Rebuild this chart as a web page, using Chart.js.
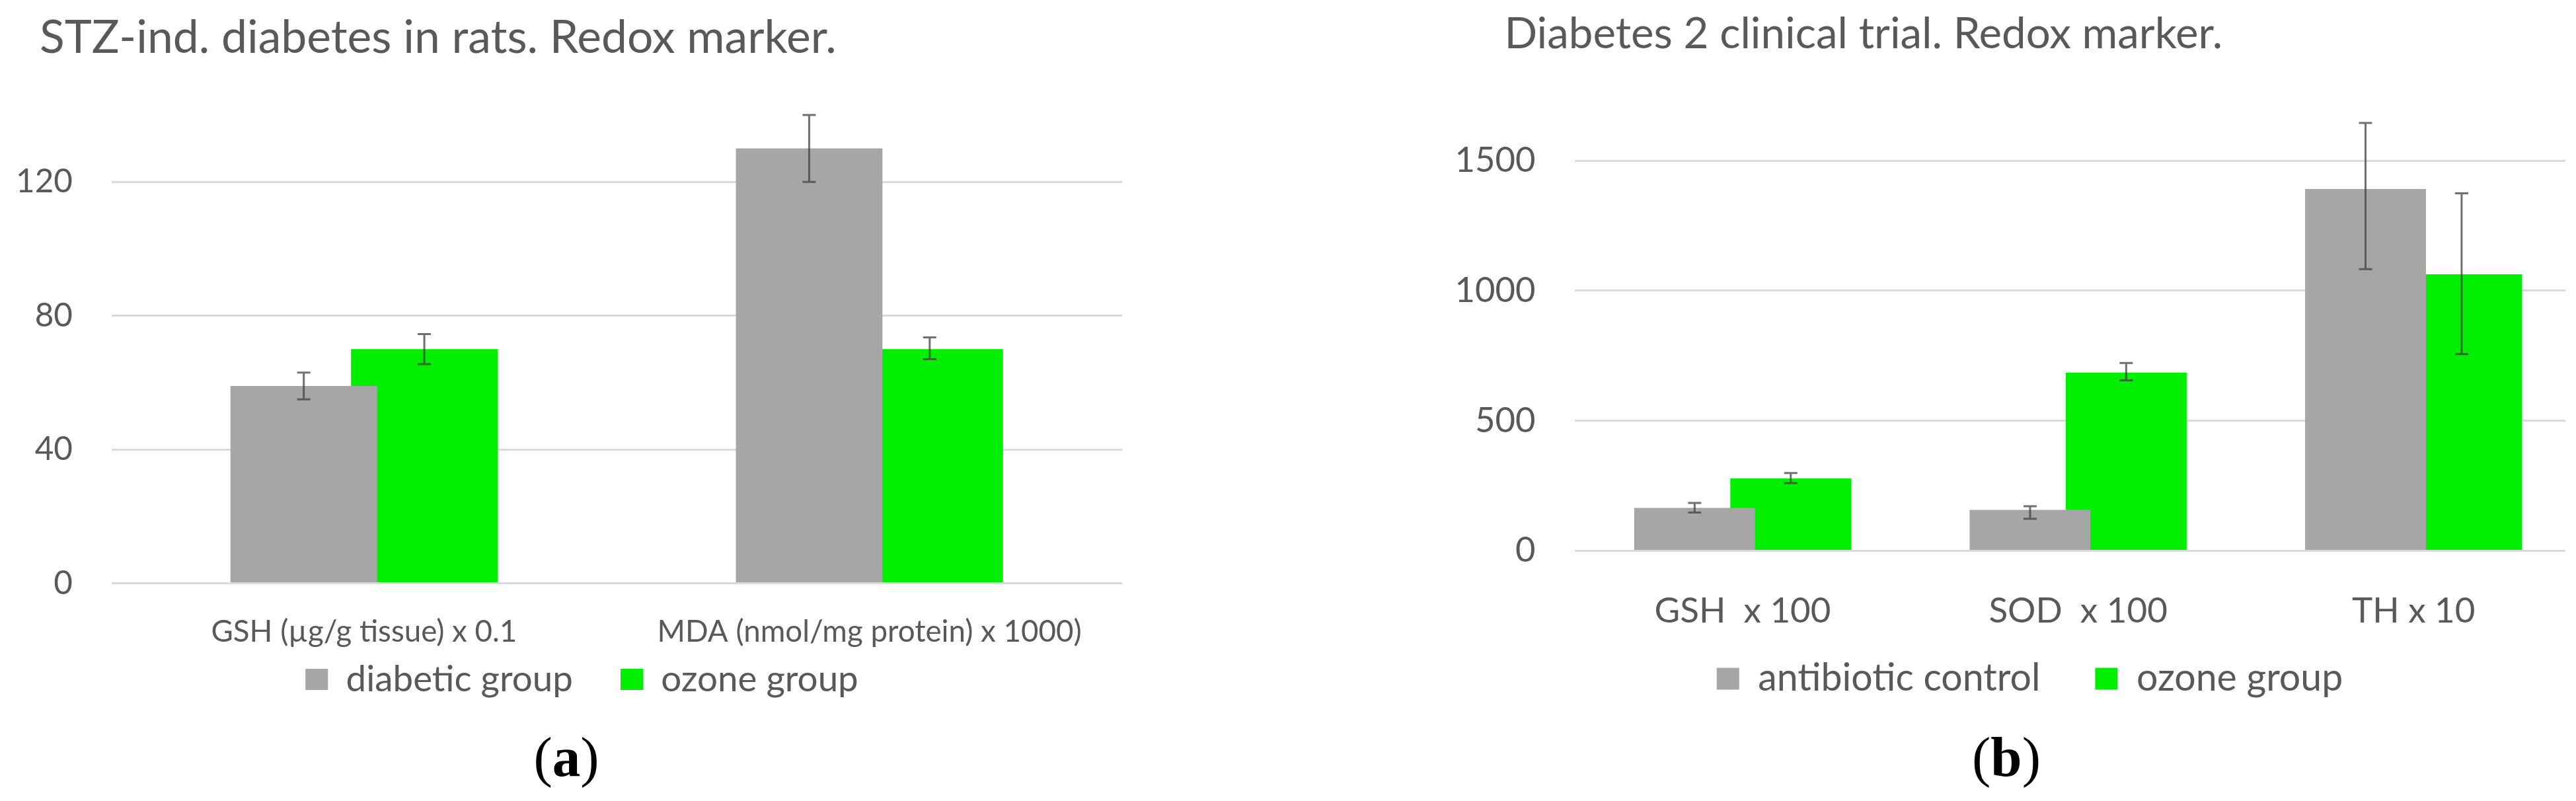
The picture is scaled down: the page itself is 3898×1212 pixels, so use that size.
<!DOCTYPE html>
<html>
<head>
<meta charset="utf-8">
<title>Redox markers</title>
<script src="https://cdn.jsdelivr.net/npm/chart.js@4.4.1/dist/chart.umd.min.js"></script>
<style>
  html, body { margin: 0; padding: 0; background: #fff; overflow: hidden; }
  body { width: 3898px; height: 1212px; position: relative; }
  .panel { position: absolute; top: 0; overflow: hidden; }
  #panelA { left: 0; width: 1712px; height: 1100px; }
  #panelB { left: 2150px; width: 1732px; height: 1100px; }
  .tag {
    position: absolute; top: 1103px;
    font-family: "Liberation Serif", "Times New Roman", serif;
    font-size: 85px; line-height: 1; color: #000;
    transform: translateX(-50%); white-space: nowrap;
  }
</style>
</head>
<body>
<div class="panel" id="panelA"><canvas id="chartA" width="1712" height="1100"></canvas></div>
<div class="panel" id="panelB"><canvas id="chartB" width="1760" height="1100"></canvas></div>
<div class="tag" style="left:857px">(<b>a</b>)</div>
<div class="tag" style="left:3036px">(<b>b</b>)</div>
<script>
// (a) STZ-induced diabetes in rats
const labelsA = ["GSH (µg/g tissue) x 0.1", "MDA (nmol/mg protein) x 1000)"]
const diabeticA = [59, 130]
const diabeticPlusA = [4, 10]
const diabeticMinusA = [4, 10]
const ozoneA = [70, 70]
const ozonePlusA = [4.5, 3.5]
const ozoneMinusA = [4.5, 3]
const ticksA = [0, 40, 80, 120]

// (b) Diabetes 2 clinical trial
const labelsB = ["GSH  x 100", "SOD  x 100", "TH x 10"]
const antibioticB = [165, 157, 1391]
const antibioticPlusB = [19, 14, 254]
const antibioticMinusB = [18, 34, 308]
const ozoneB = [278, 685, 1063]
const ozonePlusB = [21, 37, 311]
const ozoneMinusB = [18, 30, 307]
const ticksB = [0, 500, 1000, 1500]

const GREY = "#a6a6a6"
const GREEN = "#00ee00"
const TEXT = "#595959"
const GRID = "#d9d9d9"
const FONT = "Lato, 'Open Sans', sans-serif"

Chart.defaults.font.family = FONT
Chart.defaults.color = TEXT

// font helpers: size a string to a target width, and find where canvas puts
// the alphabetic baseline relative to the "middle" baseline Chart.js uses
const mctx = document.createElement("canvas").getContext("2d")
mctx.font = "100px " + FONT
function fitSize(text, width) {
  return 100 * width / mctx.measureText(text).width
}
mctx.textBaseline = "alphabetic"
const ascAlpha = mctx.measureText("H").actualBoundingBoxAscent
mctx.textBaseline = "middle"
const ascMiddle = mctx.measureText("H").actualBoundingBoxAscent
const MID = (ascAlpha - ascMiddle) / 100

// whiskers drawn from each bar's value +/- its error
const errorBars = {
  id: "errorBars",
  afterDatasetsDraw(chart) {
    const ctx = chart.ctx
    const yScale = chart.scales.y
    ctx.save()
    ctx.strokeStyle = "rgba(64, 64, 64, 0.75)"
    ctx.lineWidth = 3
    chart.data.datasets.forEach((ds, i) => {
      chart.getDatasetMeta(i).data.forEach((bar, j) => {
        const v = ds.data[j]
        const top = yScale.getPixelForValue(v + ds.errorPlus[j])
        const bottom = yScale.getPixelForValue(v - ds.errorMinus[j])
        ctx.beginPath()
        ctx.moveTo(bar.x, top)
        ctx.lineTo(bar.x, bottom)
        ctx.moveTo(bar.x - 10, top)
        ctx.lineTo(bar.x + 10, top)
        ctx.moveTo(bar.x - 10, bottom)
        ctx.lineTo(bar.x + 10, bottom)
        ctx.stroke()
      })
    })
    ctx.restore()
  }
}

function makeChart(id, p) {
  const L = p.layout
  const off = L.canvasLeft
  const titleTop = L.titleBase - (MID + 0.6) * p.titleFont
  const legendTop = L.legendMid - p.legendFont / 2 - p.legendPad
  const legendHeight = p.legendFont + p.legendPad + 10
  const xHeight = legendTop - L.plotBottom
  const legendShift = L.legendCenterX - (L.titleX + L.plotRight) / 2

  // tick labels may spill outside their axis boxes; legend nudged to its spot
  const adjust = {
    id: "adjust",
    afterLayout(chart) {
      chart.scales.y.left = 0
      chart.scales.x.bottom = chart.height
      chart.legend.left += legendShift
      chart.legend.right += legendShift
    }
  }

  return new Chart(document.getElementById(id), {
    type: "bar",
    data: {
      labels: p.labels,
      datasets: p.series.map(s => ({
        label: s.label,
        data: s.data,
        errorPlus: s.plus,
        errorMinus: s.minus,
        backgroundColor: s.color,
        borderWidth: 0,
        categoryPercentage: p.catPct,
        barPercentage: p.barPct
      }))
    },
    options: {
      responsive: false,
      animation: false,
      layout: {
        padding: {
          left: L.titleX - off,
          right: L.canvasWidth - (L.plotRight - off),
          top: 0,
          bottom: L.canvasHeight - (legendTop + legendHeight)
        }
      },
      scales: {
        x: {
          grid: { display: false },
          border: { display: false },
          ticks: {
            padding: L.xBase - L.plotBottom - (0.6 + MID) * p.xFont,
            font: { size: p.xFont }, color: TEXT, maxRotation: 0, autoSkip: false
          },
          afterFit: s => { s.height = xHeight }
        },
        y: {
          min: 0,
          max: p.max,
          grid: { color: GRID, lineWidth: 3, drawTicks: false },
          border: { display: false },
          ticks: {
            padding: L.plotLeft - L.tickRight,
            font: { size: p.yFont }, color: TEXT, callback: v => String(v)
          },
          afterBuildTicks: s => { s.ticks = p.ticks.map(v => ({ value: v })) },
          afterFit: s => { s.width = L.plotLeft - L.titleX }
        }
      },
      plugins: {
        title: {
          display: true,
          text: p.title,
          align: "start",
          color: TEXT,
          font: { size: p.titleFont, weight: "normal" },
          padding: { top: titleTop, bottom: L.plotTop - 1.2 * p.titleFont - titleTop }
        },
        legend: {
          position: "bottom",
          labels: {
            boxWidth: 34,
            boxHeight: p.boxHeight,
            padding: p.legendPad,
            color: TEXT,
            font: { size: p.legendFont }
          }
        },
        tooltip: { enabled: false }
      }
    },
    plugins: [errorBars, adjust]
  })
}

const titleA = "STZ-ind. diabetes in rats. Redox marker."
const titleB = "Diabetes 2 clinical trial. Redox marker."

makeChart("chartA", {
  title: titleA,
  labels: labelsA,
  series: [
    { label: "diabetic group", data: diabeticA, plus: diabeticPlusA, minus: diabeticMinusA, color: GREY },
    { label: "ozone group", data: ozoneA, plus: ozonePlusA, minus: ozoneMinusA, color: GREEN }
  ],
  ticks: ticksA,
  max: 140,
  titleFont: fitSize(titleA, 1206),
  yFont: fitSize("120", 86),
  xFont: fitSize(labelsA[0], 463),
  legendFont: (fitSize("diabetic group", 344) + fitSize("ozone group", 298)) / 2,
  legendPad: 72, boxHeight: 32,
  catPct: 0.477, barPct: 1.216,
  layout: {
    canvasLeft: 0, canvasWidth: 1712, canvasHeight: 1100,
    titleX: 60, titleBase: 79.6,
    plotLeft: 168.5, plotRight: 1698, plotTop: 174, plotBottom: 882.6,
    tickRight: 110, xBase: 962.9, legendMid: 1028, legendCenterX: 880.5
  }
})

makeChart("chartB", {
  title: titleB,
  labels: labelsB,
  series: [
    { label: "antibiotic control", data: antibioticB, plus: antibioticPlusB, minus: antibioticMinusB, color: GREY },
    { label: "ozone group", data: ozoneB, plus: ozonePlusB, minus: ozoneMinusB, color: GREEN }
  ],
  ticks: ticksB,
  max: 1750,
  titleFont: fitSize(titleB, 1087),
  yFont: fitSize("1500", 122),
  xFont: fitSize(labelsB[0], 267),
  legendFont: (fitSize("antibiotic control", 429) + fitSize("ozone group", 311)) / 2,
  legendPad: 83, boxHeight: 33,
  catPct: 0.573, barPct: 1.258,
  layout: {
    canvasLeft: 2150, canvasWidth: 1760, canvasHeight: 1100,
    titleX: 2276.5, titleBase: 73.5,
    plotLeft: 2383.25, plotRight: 3906, plotTop: 144.6, plotBottom: 833.4,
    tickRight: 2323.5, xBase: 933.7, legendMid: 1027, legendCenterX: 3071.5
  }
})
</script>
</body>
</html>
